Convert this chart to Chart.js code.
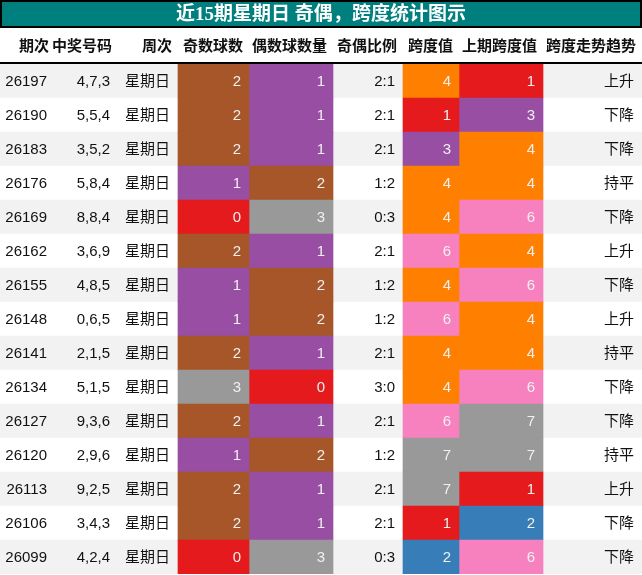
<!DOCTYPE html><html><head><meta charset="utf-8">
<script src="https://cdn.jsdelivr.net/npm/chart.js@4"></script>
<style>html,body{margin:0;padding:0;background:#fff}#w{width:642px;height:575px}</style></head><body><div id="w"><canvas id="c"></canvas></div>
<script>
const title='近15期星期日 奇偶，跨度统计图示';
const headers=['期次','中奖号码','周次','奇数球数','偶数球数量','奇偶比例','跨度值','上期跨度值','跨度走势趋势'];
const periods=['26197','26190','26183','26176','26169','26162','26155','26148','26141','26134','26127','26120','26113','26106','26099'];
const numbers=['4,7,3','5,5,4','3,5,2','5,8,4','8,8,4','3,6,9','4,8,5','0,6,5','2,1,5','5,1,5','9,3,6','2,9,6','9,2,5','3,4,3','4,2,4'];
const weekday='星期日';
const oddCount=[2,2,2,1,0,2,1,1,2,3,2,1,2,2,0];
const evenCount=[1,1,1,2,3,1,2,2,1,0,1,2,1,1,3];
const ratio=['2:1','2:1','2:1','1:2','0:3','2:1','1:2','1:2','2:1','3:0','2:1','1:2','2:1','2:1','0:3'];
const span=[4,1,3,4,4,6,4,6,4,4,6,7,7,1,2];
const prevSpan=[1,3,4,4,6,4,6,4,4,6,7,7,1,2,6];
const trend=['上升','下降','下降','持平','下降','上升','下降','上升','持平','下降','下降','持平','上升','下降','下降'];
const colEdges=[0,55,118,178,249,333,403,459,543,642];
const countColors={0:'#e41a1c',1:'#984ea3',2:'#a65628',3:'#999999'};
const spanColors={1:'#e41a1c',2:'#377eb8',3:'#984ea3',4:'#ff7f00',6:'#f781bf',7:'#999999'};
const rowIdx=periods.map((p,i)=>i);
function band(c){return rowIdx.map(()=>[colEdges[c],colEdges[c+1]]);}
const cellText=[periods,numbers,periods.map(()=>weekday),oddCount,evenCount,ratio,span,prevSpan,trend];
const colored=[3,4,6,7];
const ff='"Liberation Sans","Noto Sans CJK SC",sans-serif';
const textPlugin={id:'tbl',afterDatasetsDraw(ch){
 const ctx=ch.ctx,y=ch.scales.y,x=ch.scales.x;
 ctx.save();
 // title
 ctx.fillStyle='#007f7f';ctx.fillRect(0,0,642,27);
 ctx.strokeStyle='#000';ctx.lineWidth=2;ctx.strokeRect(1,1,640,26);
 ctx.fillStyle='#fff';ctx.font='bold 19px "Liberation Serif","Noto Sans CJK SC",serif';ctx.textAlign='center';ctx.textBaseline='middle';
 ctx.fillText(title,321,15);
 ctx.font='bold 15px '+ff;ctx.fillStyle='#111';ctx.textAlign='right';
 headers.forEach((h,c)=>ctx.fillText(h,x.getPixelForValue(colEdges[c+1])-6,47));
 ctx.fillStyle='#000';ctx.fillRect(0,62,642,2);
 ctx.font='15px '+ff;
 cellText.forEach((col,c)=>col.forEach((v,r)=>{
  ctx.fillStyle=colored.includes(c)?'#f0f0f0':'#111';
  ctx.fillText(String(v),x.getPixelForValue(colEdges[c+1])-8,y.getPixelForValue(r)+1);
 }));
 ctx.restore();}};
new Chart(document.getElementById('c'),{type:'bar',
 data:{labels:periods,datasets:[
  {data:band(3),backgroundColor:oddCount.map(v=>countColors[v]),order:1},
  {data:band(4),backgroundColor:evenCount.map(v=>countColors[v]),order:1},
  {data:band(6),backgroundColor:span.map(v=>spanColors[v]),order:1},
  {data:band(7),backgroundColor:prevSpan.map(v=>spanColors[v]),order:1},
  {data:rowIdx.map(()=>[0,642]),backgroundColor:rowIdx.map(i=>i%2?'#ffffff':'#f2f2f2'),order:2}
 ].map(d=>Object.assign(d,{grouped:false,barPercentage:1,categoryPercentage:1,borderWidth:0}))},
 options:{indexAxis:'y',responsive:true,maintainAspectRatio:false,animation:false,
  layout:{padding:{top:64,bottom:1,left:0,right:0}},
  plugins:{legend:{display:false},tooltip:{enabled:false}},
  scales:{x:{type:'linear',min:0,max:642,display:false},y:{display:false}}},
 plugins:[textPlugin]});
</script></body></html>
